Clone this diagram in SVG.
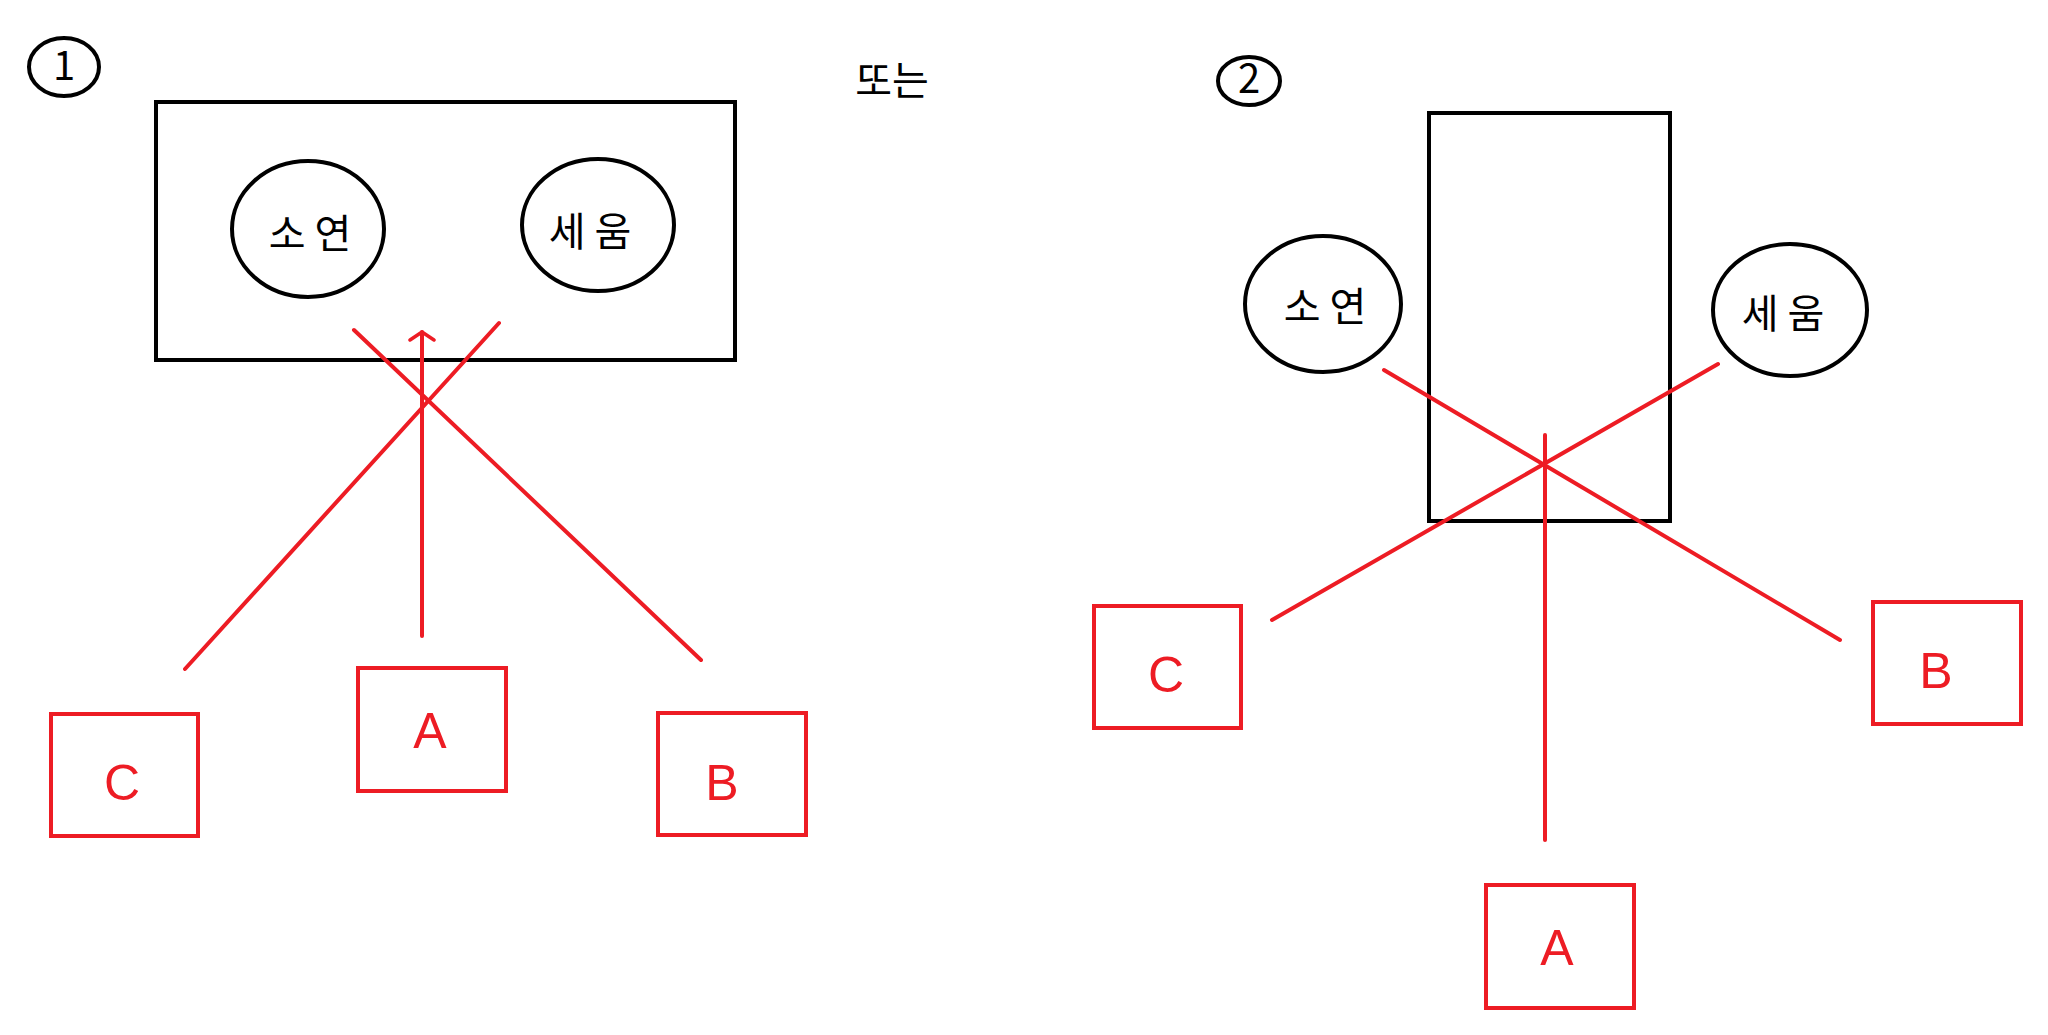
<svg xmlns="http://www.w3.org/2000/svg" width="2048" height="1035" viewBox="0 0 2048 1035">
<defs>
<style>
.blk{fill:none;stroke:#000;stroke-width:4}
.red{fill:none;stroke:#ED1C24;stroke-width:4}
.ln{stroke:#ED1C24;stroke-width:4;fill:none;stroke-linecap:round}
.kt{font-family:"Noto Sans CJK KR","Noto Sans",sans-serif;font-size:40px;fill:#000;text-anchor:middle}
.lt{font-family:"Liberation Sans",sans-serif;font-size:50px;fill:#ED1C24;text-anchor:middle}
</style>
<marker id="ah" viewBox="0 0 12 28" refX="10" refY="14" markerWidth="12" markerHeight="28" markerUnits="userSpaceOnUse" orient="auto">
<path d="M2,2 L10,14 L2,26" fill="none" stroke="#ED1C24" stroke-width="3.5" stroke-linecap="round" stroke-linejoin="round"/>
</marker>
</defs>
<rect width="2048" height="1035" fill="#fff"/>
<g id="label1"><ellipse cx="64" cy="67" rx="35" ry="29" class="blk" stroke-width="3"/><text x="64" y="80" class="kt" font-size="36">1</text></g>
<g id="label-or"><text x="892" y="95" class="kt" font-size="44">또는</text></g>
<g id="label2"><ellipse cx="1249" cy="81" rx="31" ry="24" class="blk" stroke-width="3"/><text x="1249" y="93" class="kt" font-size="32">2</text></g>
<g id="board1"><rect x="156" y="102" width="579" height="258" class="blk"/></g>
<g id="soyeon1"><ellipse cx="308" cy="229" rx="76" ry="68" class="blk"/><text x="310" y="248" class="kt">소 연</text></g>
<g id="seum1"><ellipse cx="598" cy="225" rx="76" ry="66" class="blk"/><text x="590" y="246" class="kt">세 움</text></g>
<g id="board2"><rect x="1429" y="113" width="241" height="408" class="blk"/></g>
<g id="soyeon2"><ellipse cx="1323" cy="304" rx="78" ry="68" class="blk"/><text x="1325" y="321" class="kt">소 연</text></g>
<g id="seum2"><ellipse cx="1790" cy="310" rx="77" ry="66" class="blk"/><text x="1783" y="328" class="kt">세 움</text></g>
<g id="connectors">
<line x1="354" y1="330" x2="701" y2="660" class="ln"/>
<line x1="499" y1="323" x2="185" y2="669" class="ln"/>
<line x1="422" y1="636" x2="422" y2="332" class="ln" marker-end="url(#ah)"/>
<line x1="1384" y1="370" x2="1840" y2="640" class="ln"/>
<line x1="1718" y1="364" x2="1272" y2="620" class="ln"/>
<line x1="1545" y1="435" x2="1545" y2="840" class="ln"/>
</g>
<g id="boxC1"><rect x="51" y="714" width="147" height="122" class="red"/><text x="122" y="800" class="lt">C</text></g>
<g id="boxA1"><rect x="358" y="668" width="148" height="123" class="red"/><text x="430" y="748" class="lt">A</text></g>
<g id="boxB1"><rect x="658" y="713" width="148" height="122" class="red"/><text x="722" y="800" class="lt">B</text></g>
<g id="boxC2"><rect x="1094" y="606" width="147" height="122" class="red"/><text x="1166" y="692" class="lt">C</text></g>
<g id="boxB2"><rect x="1873" y="602" width="148" height="122" class="red"/><text x="1936" y="688" class="lt">B</text></g>
<g id="boxA2"><rect x="1486" y="885" width="148" height="123" class="red"/><text x="1557" y="965" class="lt">A</text></g>
</svg>
